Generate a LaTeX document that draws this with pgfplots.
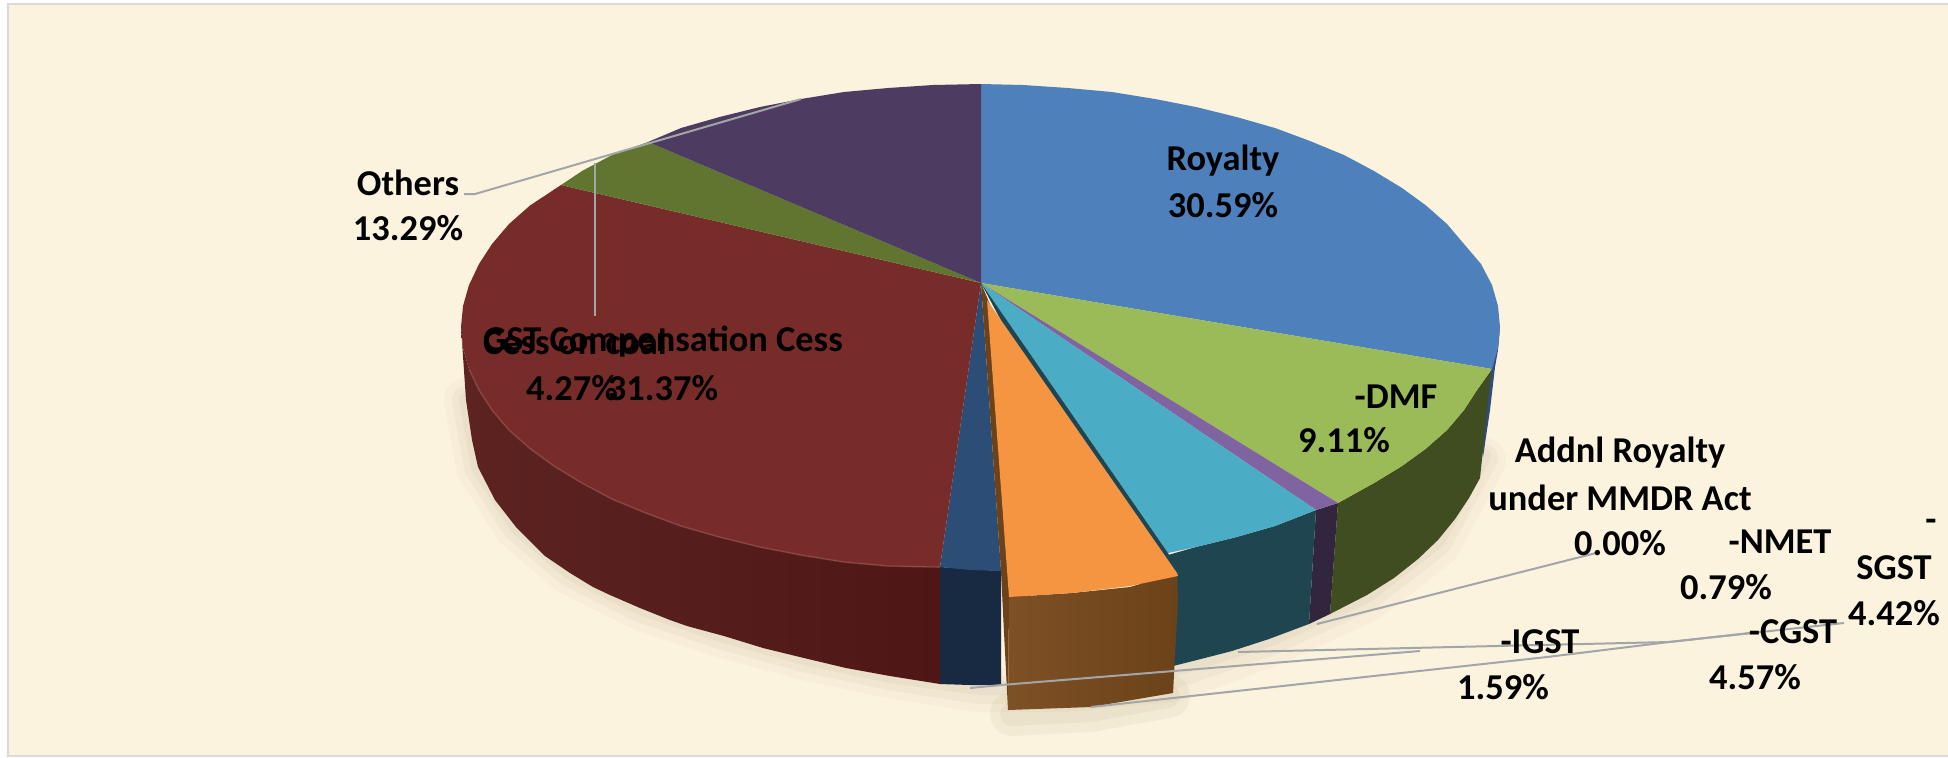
\documentclass[border=0pt]{standalone}
\usepackage{fontspec}
\setmainfont{Carlito}
\usepackage{pgfplots}
\pgfplotsset{compat=1.18}
\definecolor{bgc}{HTML}{FCF3DF}
\definecolor{framec}{HTML}{D9D9D9}
\definecolor{leader}{HTML}{A3A6A8}
\definecolor{shad}{HTML}{B9A988}
\definecolor{topblue}{HTML}{4E80BC}
\definecolor{topgreen}{HTML}{9BBB59}
\definecolor{toppurple}{HTML}{8064A2}
\definecolor{topcyan}{HTML}{4BACC6}
\definecolor{toporange}{HTML}{F59441}
\definecolor{topnavy}{HTML}{2C4D75}
\definecolor{topred}{HTML}{772C2A}
\definecolor{topolive}{HTML}{5F7530}
\definecolor{topplum}{HTML}{4D3B62}
\definecolor{wblue}{HTML}{2F4E78}
\definecolor{wgreen}{HTML}{3F4D21}
\definecolor{wpurple}{HTML}{32263F}
\definecolor{wteal}{HTML}{1F4650}
\definecolor{wnavy}{HTML}{172A42}
\definecolor{wredA}{HTML}{5C2321}
\definecolor{wredB}{HTML}{4E1716}
\definecolor{woraA}{HTML}{7E5026}
\definecolor{woraB}{HTML}{6B4219}
\definecolor{rimred}{HTML}{8F4B48}
\newcommand{\lab}[3]{\node[font=\fontsize{18.2}{22}\selectfont\bfseries,text=black,inner sep=0pt,anchor=center] at (axis cs:#1,#2) {#3};}
\begin{document}
\begin{tikzpicture}
\begin{axis}[scale only axis,width=974pt,height=378.5pt,xmin=0,xmax=1948,ymin=0,ymax=757,y dir=reverse,hide axis,clip=true]
% page and frame, drawn as filled bands so that they add nothing to the picture's size
\addplot[fill=white,draw=none] coordinates {(0,0)(1948,0)(1948,757)(0,757)} -- cycle;
\addplot[fill=framec,draw=none] coordinates {(7,3)(1948,3)(1948,757)(7,757)} -- cycle;
\addplot[fill=bgc,draw=none] coordinates {(9,5)(1948,5)(1948,755)(9,755)} -- cycle;
% soft shadow
\addplot[draw=shad,opacity=.07,line width=22pt,line cap=round,line join=round,mark=none] coordinates {(466,400)(478,467)(516,527)(570,573)(640,608)(724,636)(804,658)(890,676)(978,690)(1066,690)(1173,680)(1269,645)(1367,600)(1438,545)(1484,460)};
\addplot[draw=shad,opacity=.09,line width=14pt,line cap=round,line join=round,mark=none] coordinates {(466,400)(478,467)(516,527)(570,573)(640,608)(724,636)(804,658)(890,676)(978,690)(1066,690)(1173,675)(1269,642)(1367,597)(1438,542)(1484,458)};
\addplot[draw=shad,opacity=.11,line width=7pt,line cap=round,line join=round,mark=none] coordinates {(466,400)(478,467)(516,527)(570,573)(640,608)(724,636)(804,658)(890,676)(978,688)(1066,688)(1173,670)(1269,640)(1367,596)(1438,541)(1484,456)};
\addplot[draw=shad,opacity=.12,line width=22pt,line cap=round,mark=none] coordinates {(1012,714)(1090,710)(1168,696)};
\addplot[draw=shad,opacity=.12,line width=12pt,line cap=round,mark=none] coordinates {(1012,714)(1090,710)(1168,696)};
% side walls
\addplot[draw=none,fill=wblue,mark=none] coordinates {(1500,327)(1498,350)(1495,367)(1490,410)(1483,457)(1480,440)(1488,380)} -- cycle;
\addplot[draw=none,left color=wredA,right color=wredB,mark=none] coordinates {(461,327)(463,348)(469,369)(479,390)(492,410)(509,430)(530,448.5)(554,466)(582,483)(612,499)(646,513)(681,526)(719.5,537)(760,547)(801,555)(844,562)(888,566)(940,567)(940,684)(890,676)(846,668)(804,658)(763,648)(724,636)(687,626)(670,620)(640,608)(610,595)(593,587)(570,573)(545,556)(516,527)(495,500)(478,467)(472,440)(466,400)} -- cycle;
\addplot[draw=none,fill=wnavy,mark=none] coordinates {(940,567)(1001,571)(1001,685)(970,685)(940,684)} -- cycle;
\addplot[draw=none,fill=wgreen,mark=none] coordinates {(1492,369)(1477,390)(1464,410)(1447,430)(1426,448.5)(1402,466)(1374,483)(1338,503)(1330,614)(1367,595)(1394,578)(1418,559)(1438,540)(1455,519)(1469,498)(1480,478)(1484,440)(1490,380)} -- cycle;
\addplot[draw=none,fill=wpurple,mark=none] coordinates {(1338,503)(1316,510)(1309,624)(1330,614)} -- cycle;
\addplot[draw=none,fill=wteal,mark=none] coordinates {(1316,510)(1275,526)(1236.5,537)(1196,547)(1168,555)(1160,590)(1165,668)(1193,661)(1232,651)(1269,639)(1309,624)} -- cycle;
% top faces
\addplot[draw=none,fill=topblue,mark=none] coordinates {(981,283)(981,84)(1023,85)(1068,88)(1112,92)(1155,99)(1196,107)(1236.5,117)(1275,128)(1310,141)(1344,155)(1374,171)(1402,188)(1426,205.5)(1447,224)(1464,244)(1481,264)(1492,285)(1498,306)(1500,327)(1498,348)(1492,369)} -- cycle;
\addplot[draw=none,fill=topgreen,mark=none] coordinates {(981,283)(1492,369)(1477,390)(1464,410)(1447,430)(1426,448.5)(1402,466)(1374,483)(1338,503)} -- cycle;
\addplot[draw=none,fill=toppurple,mark=none] coordinates {(981,283)(1338,503)(1316,510)} -- cycle;
\addplot[draw=none,fill=topcyan,mark=none] coordinates {(981,283)(1316,510)(1275,526)(1236.5,537)(1196,547)(1168,553)} -- cycle;
\addplot[draw=none,fill=wteal,mark=none] coordinates {(981,283)(1168,553)(1181,575)(1176,600)(1150,600)} -- cycle;
\addplot[draw=none,fill=topnavy,mark=none] coordinates {(981,283)(1001,571)(970,570)(940,567)} -- cycle;
\addplot[draw=none,fill=topred,mark=none] coordinates {(981,283)(940,567)(888,566)(844,562)(801,555)(760,547)(719.5,537)(681,526)(646,513)(612,499)(582,483)(554,466)(530,448.5)(509,430)(492,410)(479,390)(469,369)(463,348)(461,327)(463,306)(469,285)(479,264)(492,244)(509,224)(530,205.5)(561,185)} -- cycle;
\addplot[draw=none,fill=topolive,mark=none] coordinates {(981,283)(561,185)(582,171)(612,155)(648,142)} -- cycle;
\addplot[draw=none,fill=topplum,mark=none] coordinates {(981,283)(648,142)(681,128)(719.5,117)(760,107)(801,99)(844,92)(888,88)(933,85)(981,84)} -- cycle;
% rim highlight
\addplot[draw=rimred,line width=.8pt,opacity=.7,mark=none] coordinates {(469,369)(479,390)(492,410)(509,430)(530,448.5)(554,466)(582,483)(612,499)(646,513)(681,526)(719.5,537)(760,547)(801,555)(844,562)(888,566)(940,567)};
% exploded orange slice
\addplot[draw=none,fill=woraB,mark=none] coordinates {(981,283)(1030,400)(1030,600)(1009,600)(1008,710)(1003,613)(1001,571)} -- cycle;
\addplot[draw=none,left color=woraA,right color=woraB,mark=none] coordinates {(1009,597)(1072,593)(1130,587)(1177,573)(1178,600)(1173,693)(1091,707)(1008,710)} -- cycle;
\addplot[draw=none,fill=toporange,mark=none] coordinates {(987,300)(1177,573)(1178,576)(1130,586)(1072,593)(1009,597)} -- cycle;
% leader lines
\addplot[draw=leader,line width=1pt,mark=none] coordinates {(464,194)(475,194)(801,99)};
\addplot[draw=leader,line width=1pt,mark=none] coordinates {(595,163)(595,316)};
\addplot[draw=leader,line width=1pt,mark=none] coordinates {(1596,553)(1317,624)};
\addplot[draw=leader,line width=1pt,mark=none] coordinates {(1844,623)(1669,642)(1238,652)};
\addplot[draw=leader,line width=1pt,mark=none] coordinates {(1750,633)(1669,642)(1547,657)(1091,707)};
\addplot[draw=leader,line width=1pt,mark=none] coordinates {(970,688)(1001,685)(1420,651)};
% labels
\lab{1223}{161}{Royalty}
\lab{1223}{205}{30.59\%}
\lab{408}{183}{Others}
\lab{408}{228}{13.29\%}
\lab{663}{342}{GST Compensation Cess}
\lab{663}{388}{31.37\%}
\lab{575}{342}{Cess on coal}
\lab{572}{388}{4.27\%}
\lab{1396}{397}{-DMF}
\lab{1344}{440}{9.11\%}
\lab{1620}{453}{Addnl Royalty}
\lab{1620}{498}{under MMDR Act}
\lab{1620}{543}{0.00\%}
\lab{1780}{542}{-NMET}
\lab{1726}{587}{0.79\%}
\lab{1931}{525}{-}
\lab{1894}{568}{SGST}
\lab{1894}{613}{4.42\%}
\lab{1793}{632}{-CGST}
\lab{1755}{677}{4.57\%}
\lab{1540}{642}{-IGST}
\lab{1503}{687}{1.59\%}
\end{axis}
\end{tikzpicture}
\end{document}
